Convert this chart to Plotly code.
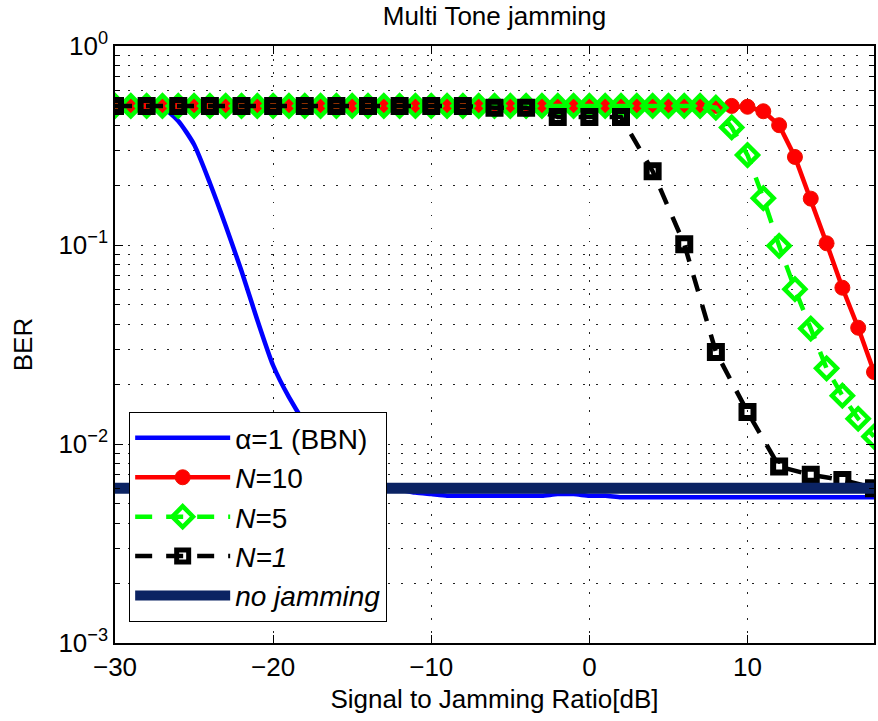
import plotly.graph_objects as go

# ---------------- data ----------------
snr_fine = [-30, -29, -28, -27, -26, -25, -24, -23, -22, -21, -20, -19, -18, -17, -16, -15,
            -14, -13, -12, -11, -10, -9, -8, -7, -6, -5, -4, -3, -2, -1, 0, 1, 2, 3, 4, 5,
            6, 7, 8, 9, 10, 11, 12, 13, 14, 15, 16, 17, 18]
snr_coarse = [-30, -28, -26, -24, -22, -20, -18, -16, -14, -12, -10, -8, -6, -4, -2, 0, 2,
              4, 6, 8, 10, 12, 14, 16, 18]

ber_bbn = [0.5, 0.5, 0.5, 0.49, 0.42, 0.32, 0.205, 0.125, 0.074, 0.042, 0.0248, 0.0172,
           0.0128, 0.0101, 0.0084, 0.0073, 0.0066, 0.0061, 0.0059, 0.0057, 0.0056, 0.0055,
           0.0055, 0.0055, 0.0055, 0.0055, 0.0055, 0.0055, 0.0056, 0.0056, 0.0055, 0.0055,
           0.0054, 0.0054, 0.0054, 0.0054, 0.0054, 0.0054, 0.0054, 0.0054, 0.0054, 0.0054,
           0.0054, 0.0054, 0.0054, 0.0054, 0.0054, 0.0054, 0.0054]

ber_n10 = [0.5, 0.5, 0.5, 0.5, 0.5, 0.5, 0.5, 0.5, 0.5, 0.5, 0.5, 0.5, 0.5, 0.5, 0.5, 0.5,
           0.5, 0.5, 0.5, 0.5, 0.5, 0.5, 0.5, 0.5, 0.5, 0.5, 0.5, 0.5, 0.5, 0.5, 0.5, 0.5,
           0.5, 0.5, 0.5, 0.5, 0.5, 0.5, 0.5, 0.5, 0.495, 0.47, 0.40, 0.277, 0.171, 0.102,
           0.061, 0.0384, 0.023]

ber_n5 = [0.5, 0.5, 0.5, 0.5, 0.5, 0.5, 0.5, 0.5, 0.5, 0.5, 0.5, 0.5, 0.5, 0.5, 0.5, 0.5,
          0.5, 0.5, 0.5, 0.5, 0.5, 0.5, 0.5, 0.5, 0.5, 0.5, 0.5, 0.5, 0.5, 0.5, 0.5, 0.5,
          0.5, 0.5, 0.5, 0.5, 0.5, 0.5, 0.49, 0.39, 0.283, 0.172, 0.099, 0.060, 0.038,
          0.0240, 0.0175, 0.0134, 0.0109]

ber_n1 = [0.5, 0.5, 0.5, 0.5, 0.5, 0.5, 0.5, 0.5, 0.5, 0.5, 0.5, 0.5, 0.49, 0.49, 0.44,
          0.44, 0.44, 0.235, 0.101, 0.029, 0.0145, 0.0077, 0.0070, 0.0066, 0.0060]

ber_nojam = [0.006, 0.006, 0.006, 0.006, 0.006, 0.006, 0.006, 0.006, 0.006, 0.006, 0.006,
             0.006, 0.006, 0.006, 0.006, 0.006, 0.006, 0.006, 0.006, 0.006, 0.006, 0.006,
             0.006, 0.006, 0.006, 0.006, 0.006, 0.006, 0.006, 0.006, 0.006, 0.006, 0.006,
             0.006, 0.006, 0.006, 0.006, 0.006, 0.006, 0.006, 0.006, 0.006, 0.006, 0.006,
             0.006, 0.006, 0.006, 0.006, 0.006]

x_ticks = [-30, -20, -10, 0, 10]
x_ticktext = ["\u221230", "\u221220", "\u221210", "0", "10"]
y_ticks = [1e-3, 1e-2, 1e-1, 1]
y_ticktext = ["10<sup>\u22123</sup>", "10<sup>\u22122</sup>", "10<sup>\u22121</sup>", "10<sup>0</sup>"]
y_minor = [k * 10.0 ** e for e in (-3, -2, -1) for k in range(2, 10)]

FONT = "Liberation Sans, Arial, Helvetica, sans-serif"
GRID = dict(gridcolor="#222222", gridwidth=1, griddash="1.5px,11.5px")

fig = go.Figure()
fig.add_trace(go.Scatter(x=snr_fine, y=ber_bbn, mode="lines", name="\u03b1=1 (BBN)",
                         line=dict(color="#0000ff", width=4.5, shape="spline", smoothing=0.6)))
fig.add_trace(go.Scatter(x=snr_fine, y=ber_n10, mode="lines+markers", name="<i>N</i>=10",
                         line=dict(color="#ff0000", width=4.5),
                         marker=dict(symbol="circle", size=15, color="#ff0000",
                                     line=dict(color="#ee1100", width=1))))
fig.add_trace(go.Scatter(x=snr_fine, y=ber_n5, mode="lines+markers", name="<i>N</i>=5",
                         line=dict(color="#00ff00", width=4.5, dash="17px,14px"),
                         marker=dict(symbol="diamond-open", size=16, color="#00ff00",
                                     line=dict(color="#00ff00", width=4.5))))
fig.add_trace(go.Scatter(x=snr_coarse, y=ber_n1, mode="lines+markers", name="<i>N=1</i>",
                         line=dict(color="#000000", width=4.5, dash="17px,14px"),
                         marker=dict(symbol="square-open", size=12, color="#000000",
                                     line=dict(color="#000000", width=6))))
fig.add_trace(go.Scatter(x=snr_fine, y=ber_nojam, mode="lines", name="<i>no jamming</i>",
                         line=dict(color="#0b2363", width=11)))

fig.update_layout(
    width=878, height=721,
    margin=dict(l=115, r=2, t=46, b=78),
    paper_bgcolor="white", plot_bgcolor="white",
    font=dict(family=FONT, size=26, color="black"),
    title=dict(text="Multi Tone jamming", x=0.5, xref="paper", xanchor="center",
               y=1 - 16 / 721, yref="container", yanchor="middle",
               font=dict(family=FONT, size=26, color="black")),
    showlegend=True,
    legend=dict(x=0.0184, y=0.387, xanchor="left", yanchor="top",
                bgcolor="white", bordercolor="black", borderwidth=1.2,
                font=dict(family=FONT, size=28, color="black"),
                itemwidth=95, tracegroupgap=0),
)

fig.update_xaxes(
    range=[-30, 18], tickvals=x_ticks, ticktext=x_ticktext,
    ticks="inside", ticklen=8, tickcolor="black", tickwidth=1.2,
    showline=True, linecolor="black", linewidth=1.5, mirror="ticks",
    showgrid=True, zeroline=False, **GRID,
    title=dict(text="Signal to Jamming Ratio[dB]", standoff=9,
               font=dict(family=FONT, size=26, color="black")),
    tickfont=dict(family=FONT, size=26, color="black"),
)
fig.update_yaxes(
    type="log", range=[-3, 0], tickvals=y_ticks, ticktext=y_ticktext,
    ticks="inside", ticklen=8, tickcolor="black", tickwidth=1.2,
    showline=True, linecolor="black", linewidth=1.5, mirror="ticks",
    showgrid=True, zeroline=False, **GRID,
    minor=dict(tickvals=y_minor, ticks="inside", ticklen=5, tickcolor="black",
               showgrid=True, **GRID),
    title=dict(text="BER", standoff=18, font=dict(family=FONT, size=26, color="black")),
    tickfont=dict(family=FONT, size=26, color="black"),
)

fig.write_html("out.html")
